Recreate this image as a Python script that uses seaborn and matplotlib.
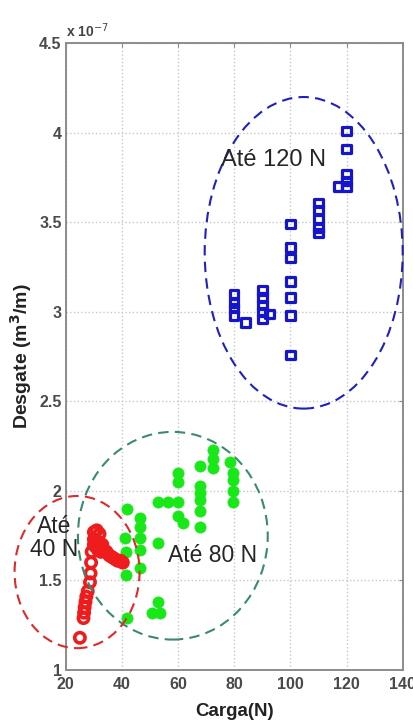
import numpy as np
import pandas as pd
import seaborn as sns
import matplotlib.pyplot as plt
from matplotlib.patches import Ellipse
from matplotlib.ticker import FuncFormatter

# wear (x 1e-7 m3/m) vs load (N)
red_x = [25.0,
         26.3, 26.5, 26.7, 27.0, 27.3, 27.8,
         28.6, 28.8, 29.0, 29.2,
         30.0, 31.0, 32.0, 30.0, 31.0, 32.0, 30.5, 31.5, 32.5, 33.5, 34.5, 33.0, 30.0,
         35.5, 36.5, 37.5, 38.5, 39.5, 40.3]
red_y = [1.18,
         1.29, 1.32, 1.35, 1.38, 1.41, 1.44,
         1.49, 1.54, 1.60, 1.66,
         1.77, 1.78, 1.76, 1.73, 1.72, 1.71, 1.69, 1.67, 1.66, 1.67, 1.66, 1.70, 1.70,
         1.64, 1.63, 1.62, 1.61, 1.61, 1.60]

green_x = [41.7, 41.0, 41.5, 41.5, 41.7,
           46.3, 46.5, 46.5, 46.5, 46.5,
           52.7, 52.7, 50.6, 53.4,
           52.7, 56.3, 60.0,
           60.0, 60.0, 60.0, 61.6,
           67.7, 67.7, 67.7, 67.7, 67.7, 67.7,
           72.3, 72.3, 72.3,
           78.5, 79.5, 79.5, 79.5, 79.5]
green_y = [1.90, 1.74, 1.66, 1.53, 1.29,
           1.85, 1.80, 1.74, 1.67, 1.57,
           1.71, 1.38, 1.32, 1.32,
           1.94, 1.94, 1.94,
           2.10, 2.05, 1.86, 1.82,
           2.14, 2.03, 1.99, 1.95, 1.89, 1.80,
           2.23, 2.18, 2.13,
           2.16, 2.10, 2.06, 2.00, 1.94]

blue_x = [80, 80, 80, 80, 84, 90, 90, 90, 90, 90, 92.5,
          100, 100, 100, 100, 100, 100, 100,
          110, 110, 110, 110, 110, 117, 120, 120, 120, 120, 120]
blue_y = [3.10, 3.05, 3.02, 2.98, 2.94, 3.12, 3.08, 3.04, 3.00, 2.96, 2.99,
          3.49, 3.36, 3.30, 3.17, 3.08, 2.98, 2.76,
          3.61, 3.57, 3.52, 3.47, 3.44, 3.70, 3.70, 3.73, 3.77, 3.91, 4.01]

x_ticks = [20, 40, 60, 80, 100, 120, 140]
y_ticks = [1, 1.5, 2, 2.5, 3, 3.5, 4, 4.5]

red = pd.DataFrame({'carga': red_x, 'desgate': red_y})
green = pd.DataFrame({'carga': green_x, 'desgate': green_y})
blue = pd.DataFrame({'carga': blue_x, 'desgate': blue_y})

sns.set_style('white')
plt.rcParams['font.family'] = ['Liberation Sans', 'DejaVu Sans']

fig = plt.figure(figsize=(4.14, 7.22), dpi=100)
ax = fig.add_axes([0.159, 0.072, 0.814, 0.868])

sns.scatterplot(data=green, x='carga', y='desgate', ax=ax, marker='o', s=65,
                color='#18e818', edgecolor='#18e818', linewidth=0.5, zorder=3)
sns.scatterplot(data=red, x='carga', y='desgate', ax=ax, marker='o', s=55,
                facecolor='none', edgecolor='#ee1c1c', linewidth=2.6, zorder=4)
sns.scatterplot(data=blue, x='carga', y='desgate', ax=ax, marker='s', s=36,
                facecolor='none', edgecolor='#1515cc', linewidth=2.3, zorder=4)

# group outlines
ax.add_patch(Ellipse((104.7, 3.33), 70.5, 1.74, fill=False, ls=(0, (5, 3)), lw=1.5,
                     edgecolor='#2020c0', zorder=5, clip_on=False))
ax.add_patch(Ellipse((58.1, 1.75), 67.6, 1.16, fill=False, ls=(0, (5, 3)), lw=1.5,
                     edgecolor='#3a8a6e', zorder=5, clip_on=False))
ax.add_patch(Ellipse((24.0, 1.547), 44.5, 0.85, fill=False, ls=(0, (5, 3)), lw=1.5,
                     edgecolor='#dd2a2a', zorder=5, clip_on=False))

ax.text(93.8, 3.85, 'Até 120 N', fontsize=17, ha='center', va='center', zorder=6)
ax.text(72.3, 1.64, 'Até 80 N', fontsize=16.5, ha='center', va='center', zorder=6)
ax.text(15.7, 1.737, 'Até\n40 N', fontsize=16.5, ha='center', va='center',
        linespacing=1.0, zorder=6, clip_on=False)

ax.set_xlim(20, 140)
ax.set_ylim(1, 4.5)
ax.set_xticks(x_ticks)
ax.set_yticks(y_ticks)
ax.yaxis.set_major_formatter(FuncFormatter(lambda v, p: f'{v:g}'))
ax.grid(True, ls=':', color='#c8c8c8', lw=1.0)
ax.tick_params(direction='in', top=True, right=True, length=3, color='#888888',
               labelsize=11.5, labelcolor='#4a4a4a', pad=3)
ax.tick_params(axis='x', pad=5)
for lab in ax.get_xticklabels() + ax.get_yticklabels():
    lab.set_fontweight('bold')
for sp in ax.spines.values():
    sp.set_color('#8c8c8c')
    sp.set_linewidth(1.4)

ax.text(0.0, 1.005, 'x 10$^{-7}$', transform=ax.transAxes, fontsize=10,
        color='#444444', fontweight='bold', va='bottom', ha='left')

ax.set_xlabel('Carga(N)', fontsize=13.5, fontweight='bold', color='#222222', labelpad=8)
ax.set_ylabel('Desgate (m$^\\mathbf{3}$/m)', fontsize=14, fontweight='bold',
              color='#222222', labelpad=4)

fig.savefig('out.png', dpi=100)
